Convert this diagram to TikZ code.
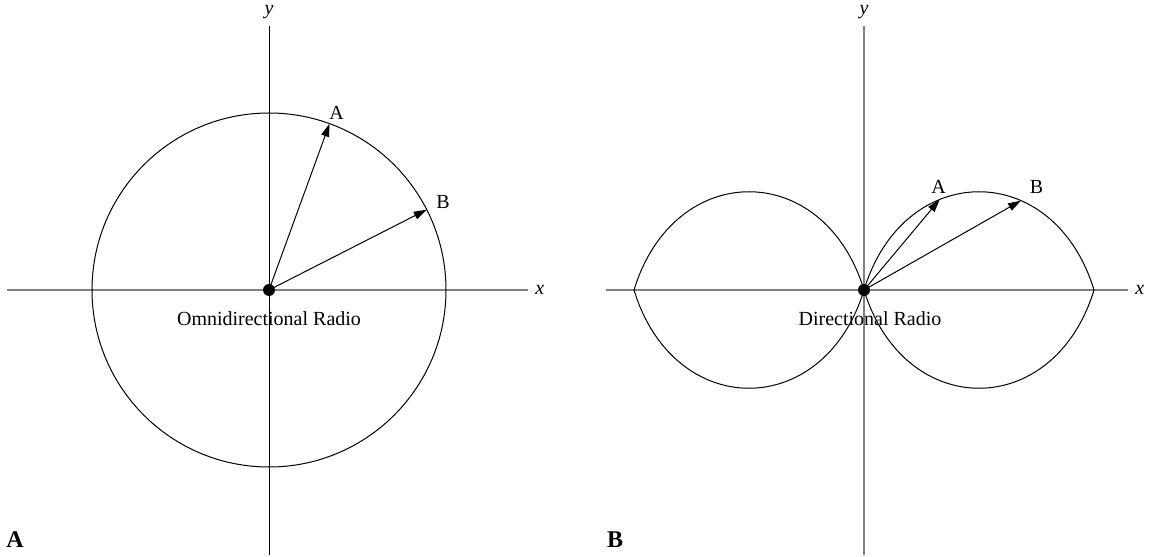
\documentclass[tikz,border=0pt]{standalone}
\usepackage{fontspec}
\setmainfont{Liberation Serif}
\usetikzlibrary{arrows.meta, positioning}

\tikzset{
  axis/.style={gray, line width=0.8pt},
  ray/.style={->, line width=0.5pt},
  radio/.style={circle, fill=black, inner sep=0pt, minimum size=6pt},
}

\begin{document}
\begin{tikzpicture}[>={Triangle[length=6.5pt,width=4pt]}, x=5pt, y=5pt, line width=0.5pt, font=\fontsize{10}{12}\selectfont]
\useasboundingbox (-26.9,-26.6) rectangle (89.6,29.0);

% Omnidirectional radio
\draw[axis] (-26.2,0) -- (25.9,0) node[right, black] {\textit{x}};
\draw (0,-26.5) -- (0,26.4) node[above] {\textit{y}};
\draw (0,0) circle (17.7);

\node[radio] (omni) at (0,0) {};
\coordinate (omniA) at (70:17.7);
\coordinate (omniB) at (27:17.7);
\draw[ray] (omni.center) -- (omniA);
\draw[ray] (omni.center) -- (omniB);
\node (labA) at (6.77,17.73) {A};
\node (labB) at (17.4,8.83) {B};
\node[below=4pt of omni] (omniText) {Omnidirectional Radio};

% Directional radio
\draw[axis] (33.7,0) -- (85.9,0) node[right, black] {\textit{x}};
\draw[axis] (59.5,-26.5) -- (59.5,26.4) node[above, black] {\textit{y}};
\draw (59.5,0) .. controls (63.5,13.1) and (78.5,13.1) .. (82.5,0)
               .. controls (78.5,-13.1) and (63.5,-13.1) .. (59.5,0);
\draw (59.5,0) .. controls (55.5,13.1) and (40.5,13.1) .. (36.5,0)
               .. controls (40.5,-13.1) and (55.5,-13.1) .. (59.5,0);

\node[radio] (dir) at (59.5,0) {};
\coordinate (dirA) at (67.07,9.05);
\coordinate (dirB) at (75.2,8.94);
\draw[ray] (dir.center) -- (dirA);
\draw[ray] (dir.center) -- (dirB);
\node (dlabA) at (66.95,10.33) {A};
\node (dlabB) at (76.75,10.33) {B};
\node[below=4pt of dir, xshift=3pt] (dirText) {Directional Radio};

% Panel letters
\node[font=\large\bfseries] (panelA) at (-25.4,-25.0) {A};
\node[font=\large\bfseries] (panelB) at (34.6,-25.0) {B};

\end{tikzpicture}
\end{document}
